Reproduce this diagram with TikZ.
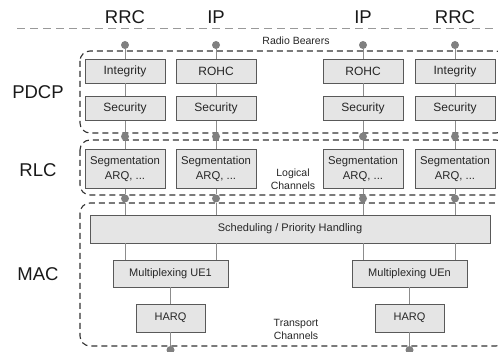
\documentclass[tikz,border=0pt]{standalone}
\usepackage{fontspec}
\setmainfont{Liberation Sans}
\usetikzlibrary{positioning}

\begin{document}
\begin{tikzpicture}[
      x = 1pt, y = -1pt, % one unit per pixel, y pointing down
      node distance = 13pt, % gap between stacked blocks
      font = \fontsize{12}{15}\selectfont
      ]

      \tikzset{
      layer/.style = {draw = black!80, dash pattern = on 6pt off 4pt, line width = 1.1pt, rounded corners = 10pt},
      block/.style = {draw = black!65, fill = black!10, text = black!85, line width = 0.9pt, minimum width = 80pt, minimum height = 24pt, inner sep = 1pt, align = center},
      segbox/.style = {block, minimum height = 39pt, font = \fontsize{11.3}{15}\selectfont},
      link/.style = {draw = black!45, line width = 1pt},
      port/.style = {circle, fill = black!50, inner sep = 0pt, minimum size = 8pt},
      heading/.style = {font = \fontsize{18.5}{20}\selectfont, text = black!90},
      small/.style = {font = \fontsize{10.5}{13}\selectfont, text = black!85, align = center}
      }

      \useasboundingbox (0,0) rectangle (498,352);

      % protocol layers
      \draw[black!40, dash pattern = on 8pt off 5pt, line width = 1pt] (17,29) -- (498,29);
      \draw[layer] (80,51) rectangle (506,133);
      \draw[layer] (80,140) rectangle (506,195);
      \draw[layer] (80,203) rectangle (506,346);

      \node[heading] (rrc1) at (125,17) {RRC};
      \node[heading] (ip2) at (216,17) {IP};
      \node[heading] (ip3) at (363,17) {IP};
      \node[heading] (rrc4) at (455,17) {RRC};

      \node[heading] (pdcp) at (38,92) {PDCP};
      \node[heading] (rlc) at (38,170) {RLC};
      \node[heading] (mac) at (38,274) {MAC};

      % PDCP
      \node[block] (int1) at (125,71) {Integrity};
      \node[block] (rohc2) at (216,71) {ROHC};
      \node[block] (rohc3) at (363,71) {ROHC};
      \node[block] (int4) at (455,71) {Integrity};
      \node[block] (sec1) [below=of int1] {Security};
      \node[block] (sec2) [below=of rohc2] {Security};
      \node[block] (sec3) [below=of rohc3] {Security};
      \node[block] (sec4) [below=of int4] {Security};

      % RLC
      \node[segbox] (seg1) [below=28pt of sec1] {Segmentation\\ARQ, ...};
      \node[segbox] (seg2) [below=28pt of sec2] {Segmentation\\ARQ, ...};
      \node[segbox] (seg3) [below=28pt of sec3] {Segmentation\\ARQ, ...};
      \node[segbox] (seg4) [below=28pt of sec4] {Segmentation\\ARQ, ...};

      % MAC
      \node[block, minimum width = 400pt, minimum height = 28pt, font = \fontsize{11}{13}\selectfont] (sched) at (290,229) {Scheduling / Priority Handling};
      \node[block, minimum width = 115pt, minimum height = 27pt, font = \fontsize{11}{13}\selectfont] (mux1) at (170.5,273.5) {Multiplexing UE1};
      \node[block, minimum width = 115pt, minimum height = 27pt, font = \fontsize{11}{13}\selectfont] (muxn) at (409.5,273.5) {Multiplexing UEn};
      \node[block, minimum width = 69pt, minimum height = 28pt, font = \fontsize{11}{13}\selectfont] (harq1) at (170.5,318) {HARQ};
      \node[block, minimum width = 69pt, minimum height = 28pt, font = \fontsize{11}{13}\selectfont] (harqn) at (409.5,318) {HARQ};

      \node[small] (rbtext) at (296,41) {Radio Bearers};
      \node[small] (lctext) at (293,179) {Logical\\Channels};
      \node[small] (tctext) at (296,329) {Transport\\Channels};

      % channel points
      \node[port] (rb1) at (125,45) {};
      \node[port] (rb2) at (216,45) {};
      \node[port] (rb3) at (363,45) {};
      \node[port] (rb4) at (455,45) {};
      \node[port] (lc1) at (125,136.5) {};
      \node[port] (lc2) at (216,136.5) {};
      \node[port] (lc3) at (363,136.5) {};
      \node[port] (lc4) at (455,136.5) {};
      \node[port] (mc1) at (125,198.5) {};
      \node[port] (mc2) at (216,198.5) {};
      \node[port] (mc3) at (363,198.5) {};
      \node[port] (mc4) at (455,198.5) {};
      \node[port] (tc1) at (170.5,350) {};
      \node[port] (tcn) at (409.5,350) {};

      \path[link] (rb1) -- (int1) (int1) -- (sec1) (sec1) -- (lc1) (lc1) -- (seg1) (seg1) -- (mc1) (mc1) -- (sched.north -| mc1);
      \path[link] (rb2) -- (rohc2) (rohc2) -- (sec2) (sec2) -- (lc2) (lc2) -- (seg2) (seg2) -- (mc2) (mc2) -- (sched.north -| mc2);
      \path[link] (rb3) -- (rohc3) (rohc3) -- (sec3) (sec3) -- (lc3) (lc3) -- (seg3) (seg3) -- (mc3) (mc3) -- (sched.north -| mc3);
      \path[link] (rb4) -- (int4) (int4) -- (sec4) (sec4) -- (lc4) (lc4) -- (seg4) (seg4) -- (mc4) (mc4) -- (sched.north -| mc4);

      \path[link] (sched.south -| mc1) -- (mux1.north -| mc1);
      \path[link] (sched.south -| mc2) -- (mux1.north -| mc2);
      \path[link] (sched.south -| mc3) -- (muxn.north -| mc3);
      \path[link] (sched.south -| mc4) -- (muxn.north -| mc4);
      \path[link] (mux1) -- (harq1) (harq1) -- (tc1);
      \path[link] (muxn) -- (harqn) (harqn) -- (tcn);

    \end{tikzpicture}
\end{document}
